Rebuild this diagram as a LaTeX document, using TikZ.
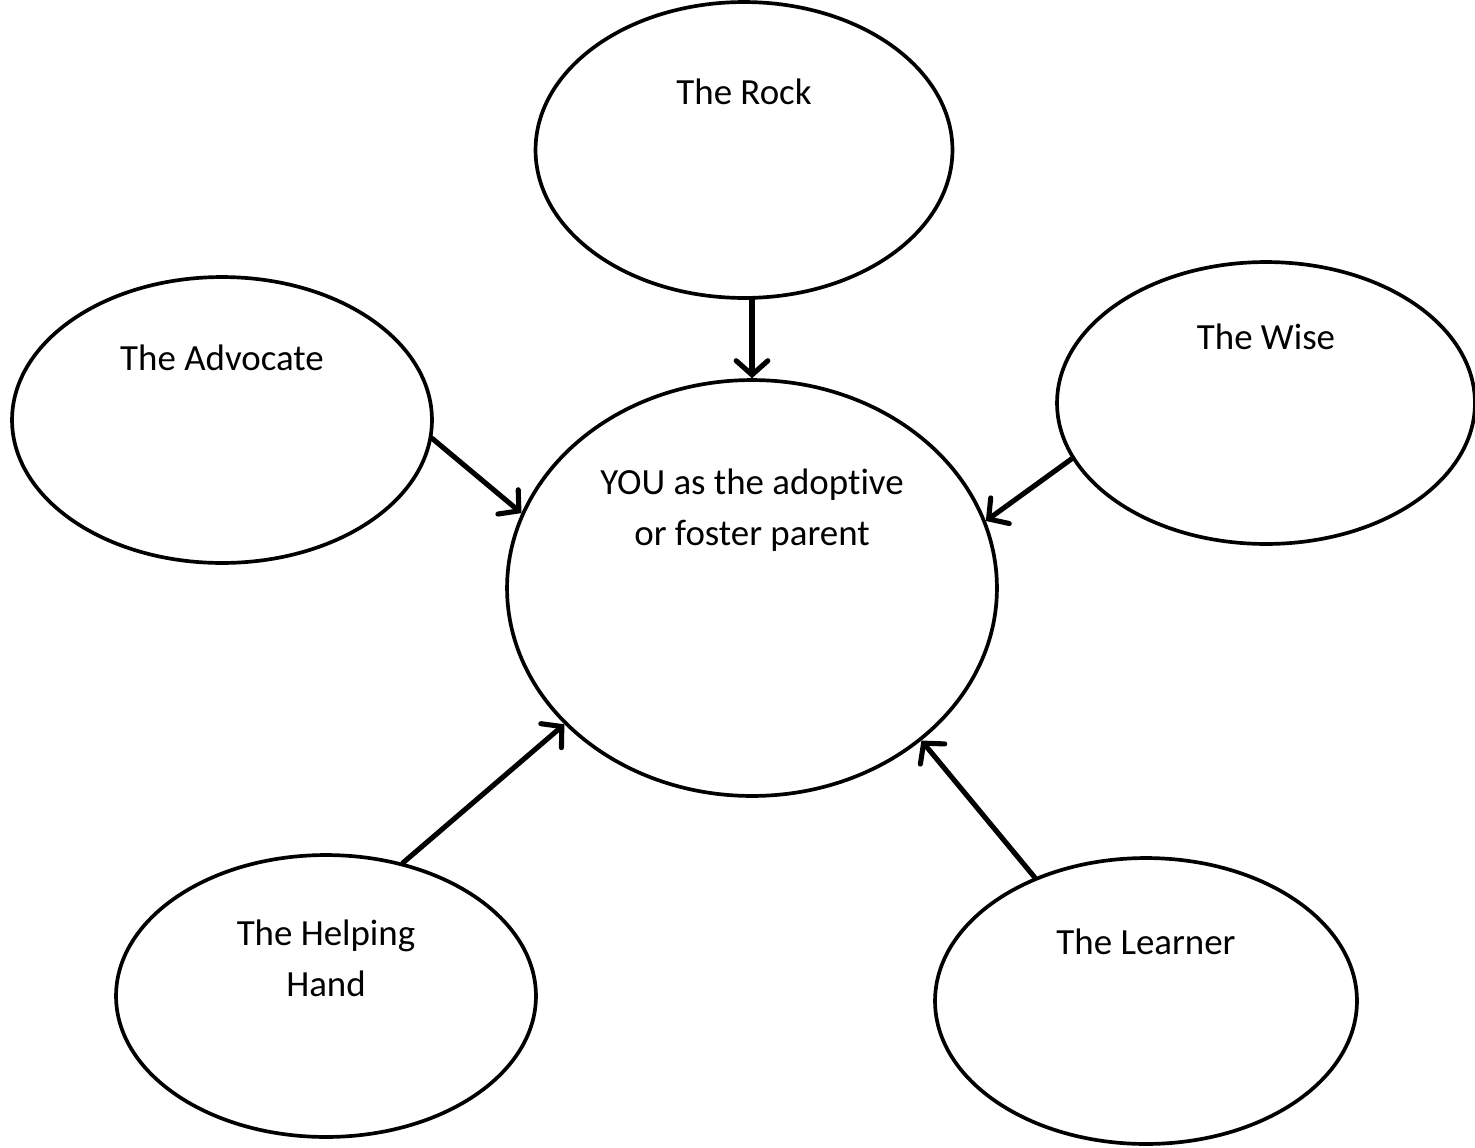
\documentclass[tikz,border=0pt]{standalone}
\usepackage{fontspec}
\setmainfont{Carlito}[Ligatures={NoCommon,NoContextual,NoRequired}]
\usetikzlibrary{shapes.geometric,arrows.meta}
\tikzset{
  bubble/.style={draw=black, ellipse, line width=2.1pt, inner sep=0pt},
  lbl/.style={font=\fontsize{21}{29}\selectfont, align=center},
  link/.style={-{Straight Barb[length=8pt,width=18pt,line cap=round]}, line width=2.9pt, line cap=round}
}
\begin{document}
\begin{tikzpicture}[x=0.02cm,y=-0.02cm]
  \useasboundingbox (0,0) rectangle (1475,1147);
  % the ellipses
  \node[bubble, minimum width=9.8cm, minimum height=8.32cm] (you) at (752,588) {};
  \node[bubble, minimum width=8.34cm, minimum height=5.92cm] (rock) at (744,150) {};
  \node[bubble, minimum width=8.4cm, minimum height=5.72cm] (advocate) at (222,420) {};
  \node[bubble, minimum width=8.36cm, minimum height=5.64cm] (wise) at (1266,403) {};
  \node[bubble, minimum width=8.4cm, minimum height=5.64cm] (helping) at (326,996) {};
  \node[bubble, minimum width=8.44cm, minimum height=5.72cm] (learner) at (1146,1001) {};
  % the texts
  \node[lbl] (youtxt) at (752,510) {YOU as the adoptive\\or foster parent};
  \node[lbl] (rocktxt) at (744,92) {The Rock};
  \node[lbl] (advtxt) at (222,358) {The Advocate};
  \node[lbl] (wisetxt) at (1266,337) {The Wise};
  \node[lbl] (helptxt) at (326,958) {The Helping\\Hand};
  \node[lbl] (learntxt) at (1146,942) {The Learner};
  % arrows into the centre
  \draw[link] (rock.south -| you.north) -- (you.north);
  \draw[link] (advocate.-5) -- (you.162);
  \draw[link] (wise.196) -- (you.16);
  \draw[link] (helping.60) -- (you.216);
  \draw[link] (learner.132) -- (you.-42);
\end{tikzpicture}
\end{document}
